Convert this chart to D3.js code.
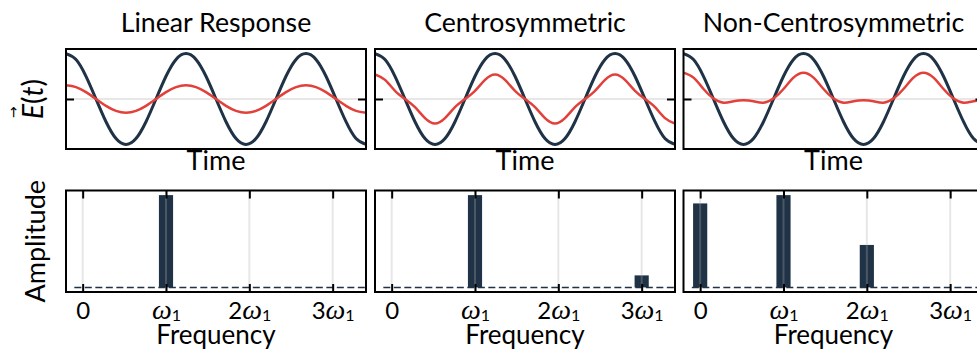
<!DOCTYPE html>
<html>
<head>
<meta charset="utf-8">
<script src="https://cdn.jsdelivr.net/npm/d3@7"></script>
<style>
  body { margin: 0; background: #fff; }
  svg { display: block; font-family: Lato, "Liberation Sans", sans-serif; }
</style>
</head>
<body>
<div id="chart"></div>
<script>
// time samples, one step = 1/12 of the drive period (2.5 periods shown)
var drive = [1, 0.87, 0.5, 0, -0.5, -0.87, -1, -0.87, -0.5, 0, 0.5, 0.87,
             1, 0.87, 0.5, 0, -0.5, -0.87, -1, -0.87, -0.5, 0, 0.5, 0.87,
             1, 0.87, 0.5, 0, -0.5, -0.87, -1];
var respLinear = [0.3, 0.26, 0.15, 0, -0.15, -0.26, -0.3, -0.26, -0.15, 0, 0.15, 0.26,
                  0.3, 0.26, 0.15, 0, -0.15, -0.26, -0.3, -0.26, -0.15, 0, 0.15, 0.26,
                  0.3, 0.26, 0.15, 0, -0.15, -0.26, -0.3];
var respCentro = [0.54, 0.42, 0.18, 0, -0.18, -0.42, -0.54, -0.42, -0.18, 0, 0.18, 0.42,
                  0.54, 0.42, 0.18, 0, -0.18, -0.42, -0.54, -0.42, -0.18, 0, 0.18, 0.42,
                  0.54, 0.42, 0.18, 0, -0.18, -0.42, -0.54];
var respNonCentro = [0.58, 0.47, 0.22, 0.01, -0.08, -0.05, -0.03, -0.05, -0.08, 0.01, 0.22, 0.47,
                     0.58, 0.47, 0.22, 0.01, -0.08, -0.05, -0.03, -0.05, -0.08, 0.01, 0.22, 0.47,
                     0.58, 0.47, 0.22, 0.01, -0.08, -0.05, -0.03];

// spectra (normalised to the w1 peak)
var harmonics = [0, 1, 2, 3];
var tickLabels = ["0", "ω1", "2ω1", "3ω1"];
var ampLinear = [0, 1, 0, 0];
var ampCentro = [0, 1, 0, 0.13];
var ampNonCentro = [0.91, 1, 0.46, 0];

var titles = ["Linear Response", "Centrosymmetric", "Non-Centrosymmetric"];
var responses = [respLinear, respCentro, respNonCentro];
var spectra = [ampLinear, ampCentro, ampNonCentro];

var width = 977, height = 354;
var panelLeft = [66, 375, 683.5], panelW = 300;
var topY = [49, 149], botY = [190.5, 292];
var dark = "#1f3246", red = "#e2413b";
var gridColor = "#b0b0b0";

var svg = d3.select("#chart").append("svg")
    .attr("width", width)
    .attr("height", height);

var defs = svg.append("defs");

var xTime = d3.scaleLinear().domain([0, drive.length - 1]).range([0, panelW]);
var yTime = d3.scaleLinear().domain([-1.1, 1.1]).range([topY[1], topY[0]]);
var xFreq = d3.scaleLinear().domain([-0.2, 3.4]).range([0, panelW]);
var yAmp = d3.scaleLinear().domain([-0.05, 1.05]).range([botY[1], botY[0]]);
var barWidth = 0.17;

var line = d3.line()
    .x(function(d, i) { return xTime(i); })
    .y(function(d) { return yTime(d); })
    .curve(d3.curveNatural);

function styleAxis(a) {
  a.select(".domain").remove();
  a.selectAll(".tick line").attr("stroke", "#000").attr("stroke-width", 2);
}

titles.forEach(function(title, i) {
  var g = svg.append("g").attr("transform", "translate(" + panelLeft[i] + ",0)");

  defs.append("clipPath").attr("id", "clipT" + i)
    .append("rect").attr("x", 0).attr("y", topY[0]).attr("width", panelW).attr("height", topY[1] - topY[0]);
  defs.append("clipPath").attr("id", "clipB" + i)
    .append("rect").attr("x", 0).attr("y", botY[0]).attr("width", panelW).attr("height", botY[1] - botY[0]);

  // ---- time domain ----
  var top = g.append("g").attr("clip-path", "url(#clipT" + i + ")");
  top.append("line")
      .attr("x1", 0).attr("x2", panelW)
      .attr("y1", yTime(0)).attr("y2", yTime(0))
      .attr("stroke", gridColor).attr("stroke-opacity", 0.3).attr("stroke-width", 2);
  top.append("path").datum(drive)
      .attr("d", line).attr("fill", "none")
      .attr("stroke", dark).attr("stroke-width", 3);
  top.append("path").datum(responses[i])
      .attr("d", line).attr("fill", "none")
      .attr("stroke", red).attr("stroke-width", 2.5);

  g.append("g").call(d3.axisLeft(yTime).tickValues([0]).tickSize(-8).tickFormat("")).call(styleAxis);
  g.append("g").attr("transform", "translate(" + panelW + ",0)")
      .call(d3.axisRight(yTime).tickValues([0]).tickSize(-8).tickFormat("")).call(styleAxis);

  g.append("rect")
      .attr("x", 0).attr("y", topY[0])
      .attr("width", panelW).attr("height", topY[1] - topY[0])
      .attr("fill", "none").attr("stroke", "#000").attr("stroke-width", 2);

  g.append("text")
      .attr("x", panelW / 2).attr("y", 32)
      .attr("text-anchor", "middle")
      .attr("font-size", 26.7)
      .attr("fill", "#000")
      .text(title);

  g.append("text")
      .attr("x", panelW / 2).attr("y", 170)
      .attr("text-anchor", "middle")
      .attr("font-size", 27)
      .attr("fill", "#000")
      .text("Time");

  // ---- frequency domain ----
  var bot = g.append("g").attr("clip-path", "url(#clipB" + i + ")");
  var amps = spectra[i];
  bot.selectAll(".bar")
      .data(harmonics.filter(function(h) { return amps[h] > 0; }))
      .enter().append("rect")
      .attr("class", "bar")
      .attr("x", function(h) { return xFreq(h - barWidth / 2); })
      .attr("width", xFreq(barWidth) - xFreq(0))
      .attr("y", function(h) { return yAmp(amps[h]); })
      .attr("height", function(h) { return yAmp(0) - yAmp(amps[h]); })
      .attr("fill", dark);

  bot.selectAll(".grid")
      .data(harmonics)
      .enter().append("line")
      .attr("x1", function(h) { return xFreq(h); })
      .attr("x2", function(h) { return xFreq(h); })
      .attr("y1", botY[0]).attr("y2", botY[1])
      .attr("stroke", gridColor).attr("stroke-opacity", 0.3).attr("stroke-width", 2);

  bot.append("line")
      .attr("x1", xFreq(-0.1)).attr("x2", xFreq(3.5))
      .attr("y1", yAmp(0)).attr("y2", yAmp(0))
      .attr("stroke", dark).attr("stroke-width", 1.5)
      .attr("stroke-dasharray", "7,3.5");

  g.append("g").attr("transform", "translate(0," + botY[0] + ")")
      .call(d3.axisTop(xFreq).tickValues(harmonics).tickSize(-8).tickFormat("")).call(styleAxis);

  var xAx = g.append("g").attr("transform", "translate(0," + botY[1] + ")")
      .call(d3.axisBottom(xFreq).tickValues(harmonics).tickSize(-8).tickFormat(""))
      .call(styleAxis);

  xAx.selectAll(".tick text")
      .attr("y", 318.5 - botY[1])
      .attr("dy", null)
      .attr("fill", "#000")
      .attr("font-family", "Lato, 'Liberation Sans', sans-serif")
      .each(function(d, k) {
        var lab = tickLabels[k];
        var t = d3.select(this).text("");
        var parts = lab.split("ω");
        if (parts.length === 1) {
          t.append("tspan").attr("font-size", 24).text(lab);
          return;
        }
        if (parts[0]) t.append("tspan").attr("font-size", 24).text(parts[0]);
        t.append("tspan")
            .attr("font-family", "'Liberation Serif', 'DejaVu Serif', serif")
            .attr("font-style", "italic")
            .attr("font-size", 28)
            .text("ω");
        t.append("tspan").attr("font-size", 16).attr("dy", 2.5).text(parts[1]);
      });

  g.append("rect")
      .attr("x", 0).attr("y", botY[0])
      .attr("width", panelW).attr("height", botY[1] - botY[0])
      .attr("fill", "none").attr("stroke", "#000").attr("stroke-width", 2);

  g.append("text")
      .attr("x", panelW / 2).attr("y", 343.5)
      .attr("text-anchor", "middle")
      .attr("font-size", 26)
      .attr("fill", "#000")
      .text("Frequency");
});

// y labels (first column only)
var eLab = svg.append("g").attr("transform", "translate(43," + yTime(0) + ") rotate(-90)");
var eText = eLab.append("text")
    .attr("text-anchor", "middle")
    .attr("font-size", 28)
    .attr("fill", "#000");
eText.append("tspan").attr("font-style", "italic").text("E");
eText.append("tspan").text("(");
eText.append("tspan").attr("font-style", "italic").text("t");
eText.append("tspan").text(")");
var eNode = eText.node();
var totalW = eNode.getComputedTextLength();
var eW = eNode.getSubStringLength(0, 1);
eLab.append("text")
    .attr("x", -totalW / 2 + eW * 0.45)
    .attr("y", -25)
    .attr("text-anchor", "middle")
    .attr("font-family", "'DejaVu Sans', sans-serif")
    .attr("font-size", 14)
    .attr("fill", "#000")
    .text("→");

svg.append("text")
    .attr("transform", "translate(45," + (botY[0] + botY[1]) / 2 + ") rotate(-90)")
    .attr("text-anchor", "middle")
    .attr("font-size", 27)
    .attr("fill", "#000")
    .text("Amplitude");
</script>
</body>
</html>
